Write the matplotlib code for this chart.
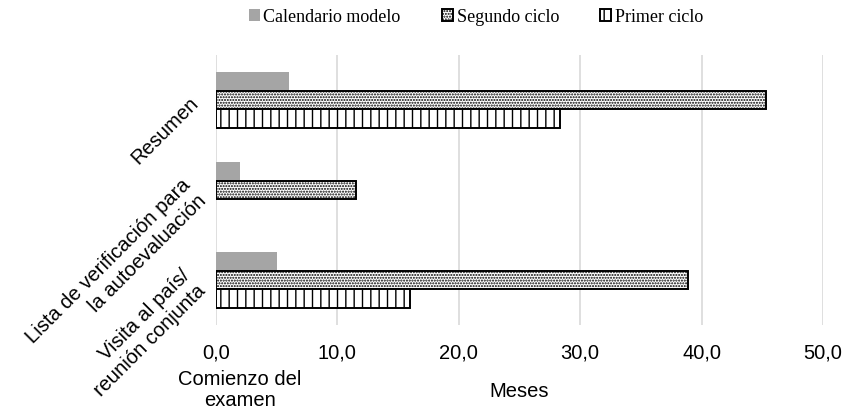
import numpy as np
import matplotlib
matplotlib.use('Agg')
import matplotlib.pyplot as plt

# categories from bottom to top (barh draws upwards)
categories = ['Visita al país/\nreunión conjunta',
              'Lista de verificación para\nla autoevaluación',
              'Resumen']
calendario = [5.0, 2.0, 6.0]
segundo = [38.9, 11.5, 45.3]
primer = [16.0, 0.0, 28.3]
xticks = [0, 10, 20, 30, 40, 50]
xticklabels = ['0,0', '10,0', '20,0', '30,0', '40,0', '50,0']

plt.rcParams['font.family'] = ['Liberation Sans', 'DejaVu Sans']
plt.rcParams['hatch.linewidth'] = 1.0

fig = plt.figure(figsize=(8.44, 4.19), dpi=100)
ax = fig.add_axes([0.256, 0.2243, 0.719, 0.6444])

y = np.arange(len(categories))
h = 0.208

# no outline for empty bars
lw_seg = [1.4 if v > 0 else 0 for v in segundo]
lw_pri = [1.4 if v > 0 else 0 for v in primer]

ax.barh(y + h, calendario, height=h, color='#A5A5A5', edgecolor='none',
        label='Calendario modelo', zorder=3)
ax.barh(y, segundo, height=h, color='white', edgecolor='black', linewidth=lw_seg,
        hatch='......', label='Segundo ciclo', zorder=3)
ax.barh(y - h, primer, height=h, color='white', edgecolor='black', linewidth=lw_pri,
        hatch='||', label='Primer ciclo', zorder=3)

ax.set_xlim(0, 50)
ax.set_ylim(-0.5, 2.5)
ax.set_xticks(xticks)
ax.set_xticklabels(xticklabels, fontsize=14.5)
ax.set_yticks(y)
ax.set_yticklabels(categories, fontsize=14.5, rotation=45, ha='right', va='center',
                   rotation_mode='anchor', multialignment='right')
ax.tick_params(axis='both', length=0)
ax.tick_params(axis='x', pad=13.5)
ax.tick_params(axis='y', pad=15)

ax.grid(axis='x', color='#D9D9D9', linewidth=1.2, zorder=0)
for s in ax.spines.values():
    s.set_visible(False)

ax.set_xlabel('Meses', fontsize=14.5, labelpad=14)
fig.text(240 / 844, 1 - 390 / 419, 'Comienzo del\nexamen', fontsize=14.5,
         ha='center', va='center', multialignment='center', linespacing=1.15)

leg = fig.legend(loc='center', bbox_to_anchor=(476 / 844, 1 - 17 / 419), ncol=3,
                 frameon=False, prop={'family': 'Liberation Serif', 'size': 13},
                 handlelength=0.6, handleheight=0.6, handletextpad=0.2,
                 columnspacing=2.3)

fig.savefig('out.png', dpi=100)
